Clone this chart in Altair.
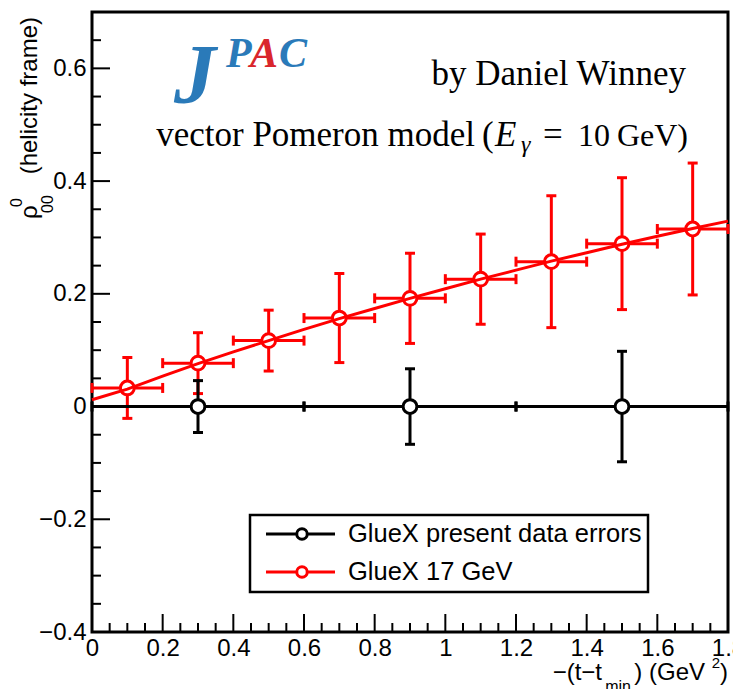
import altair as alt
import pandas as pd

# ---------------- data ----------------
red_x = [0.1, 0.3, 0.5, 0.7, 0.9, 1.1, 1.3, 1.5, 1.7]
red_y = [0.033, 0.077, 0.117, 0.157, 0.192, 0.226, 0.257, 0.289, 0.315]
red_yerr = [0.054, 0.054, 0.054, 0.079, 0.080, 0.080, 0.117, 0.117, 0.117]
red_xerr = [0.1, 0.1, 0.1, 0.1, 0.1, 0.1, 0.1, 0.1, 0.1]

black_x = [0.3, 0.9, 1.5]
black_y = [0.0, 0.0, 0.0]
black_yerr = [0.046, 0.067, 0.098]
black_xerr = [0.3, 0.3, 0.3]

model_x = [0.0, 0.1, 0.2, 0.3, 0.4, 0.5, 0.6, 0.7, 0.8, 0.9,
           1.0, 1.1, 1.2, 1.3, 1.4, 1.5, 1.6, 1.7, 1.8]
model_y = [0.012, 0.031, 0.054, 0.076, 0.097, 0.117, 0.137, 0.156, 0.174, 0.192,
           0.209, 0.226, 0.242, 0.258, 0.273, 0.288, 0.302, 0.316, 0.329]

x_major = [0, 0.2, 0.4, 0.6, 0.8, 1.0, 1.2, 1.4, 1.6, 1.8]
x_minor = [0.05, 0.1, 0.15, 0.25, 0.3, 0.35, 0.45, 0.5, 0.55, 0.65, 0.7, 0.75,
           0.85, 0.9, 0.95, 1.05, 1.1, 1.15, 1.25, 1.3, 1.35, 1.45, 1.5, 1.55,
           1.65, 1.7, 1.75]
y_major = [-0.4, -0.2, 0, 0.2, 0.4, 0.6]
y_minor = [-0.35, -0.3, -0.25, -0.15, -0.1, -0.05, 0.05, 0.1, 0.15, 0.25, 0.3,
           0.35, 0.45, 0.5, 0.55, 0.65]

series_names = ["GlueX present data errors", "GlueX 17 GeV"]
series_colors = ["black", "red"]

# ---------------- tables ----------------
red = pd.DataFrame({"x": red_x, "y": red_y, "ey": red_yerr, "ex": red_xerr})
red["ylo"] = red.y - red.ey
red["yhi"] = red.y + red.ey
red["xlo"] = red.x - red.ex
red["xhi"] = red.x + red.ex

blk = pd.DataFrame({"x": black_x, "y": black_y, "ey": black_yerr, "ex": black_xerr})
blk["ylo"] = blk.y - blk.ey
blk["yhi"] = blk.y + blk.ey
blk["xlo"] = blk.x - blk.ex
blk["xhi"] = blk.x + blk.ex

model = pd.DataFrame({"x": model_x, "y": model_y})

W, H = 636, 620
SANS = "Liberation Sans, Arial, Helvetica, sans-serif"
SERIF = "Liberation Serif, Times New Roman, serif"
BLUE = "#2a7ab9"
RED_LOGO = "#d9262c"

xs = alt.Scale(domain=[0, 1.8], nice=False, zero=False)
ys = alt.Scale(domain=[-0.4, 0.7], nice=False, zero=False)
xaxis = alt.Axis(values=x_major, format="~g", ticks=False, domain=False, grid=False,
                 labelFont=SANS, labelFontSize=24, labelPadding=4, labelColor="black",
                 labelFlush=False, labelOverlap=False, title=None)
yaxis = alt.Axis(values=y_major, format="~g", ticks=False, domain=False, grid=False,
                 labelFont=SANS, labelFontSize=24, labelPadding=6, labelColor="black",
                 labelOverlap=False, title=None)


def X(f):
    return alt.X(f, type="quantitative", scale=xs, axis=xaxis)


def Y(f):
    return alt.Y(f, type="quantitative", scale=ys, axis=yaxis)


layers = []

# tick marks drawn inside the frame (ROOT style)
layers.append(alt.Chart(pd.DataFrame({"v": x_major}))
              .mark_tick(color="black", orient="vertical", size=18, thickness=2, opacity=1)
              .encode(x=X("v"), y=alt.value(H - 9)))
layers.append(alt.Chart(pd.DataFrame({"v": x_minor}))
              .mark_tick(color="black", orient="vertical", size=9, thickness=2, opacity=1)
              .encode(x=X("v"), y=alt.value(H - 4.5)))
layers.append(alt.Chart(pd.DataFrame({"v": y_major}))
              .mark_tick(color="black", orient="horizontal", size=18, thickness=2, opacity=1)
              .encode(y=Y("v"), x=alt.value(9)))
layers.append(alt.Chart(pd.DataFrame({"v": y_minor}))
              .mark_tick(color="black", orient="horizontal", size=9, thickness=2, opacity=1)
              .encode(y=Y("v"), x=alt.value(4.5)))


def errbars(df, color):
    out = []
    base = alt.Chart(df)
    out.append(base.mark_rule(color=color, strokeWidth=3).encode(x=X("x"), y=Y("ylo"), y2="yhi"))
    out.append(base.mark_rule(color=color, strokeWidth=3).encode(x=X("xlo"), x2="xhi", y=Y("y")))
    for f in ["ylo", "yhi"]:
        out.append(base.mark_tick(color=color, orient="horizontal", size=10, thickness=3, opacity=1)
                   .encode(x=X("x"), y=Y(f)))
    for f in ["xlo", "xhi"]:
        out.append(base.mark_tick(color=color, orient="vertical", size=10, thickness=3, opacity=1)
                   .encode(x=X(f), y=Y("y")))
    return out


layers += errbars(red, "red")
layers += errbars(blk, "black")

layers.append(alt.Chart(red).mark_point(shape="circle", filled=True, fill="white", stroke="red",
                                        strokeWidth=3, size=190, opacity=1)
              .encode(x=X("x"), y=Y("y")))
layers.append(alt.Chart(blk).mark_point(shape="circle", filled=True, fill="white", stroke="black",
                                        strokeWidth=3, size=190, opacity=1)
              .encode(x=X("x"), y=Y("y")))

layers.append(alt.Chart(model).mark_line(color="red", strokeWidth=3).encode(x=X("x"), y=Y("y")))


def txt(s, x, y, size, font=SANS, align="left", baseline="alphabetic", angle=0,
        color="black", style="normal", weight="normal"):
    return (alt.Chart(pd.DataFrame({"t": [s]}))
            .mark_text(align=align, baseline=baseline, font=font, fontSize=size, angle=angle,
                       color=color, fontStyle=style, fontWeight=weight)
            .encode(text="t:N", x=alt.value(x), y=alt.value(y)))


# offsets: page pixel -> plot-area pixel
OX, OY = 92, 12

# legend (drawn by hand, ROOT TLegend style)
layers.append(alt.Chart(pd.DataFrame({"a": [0]})).mark_rect(fill="white", stroke="black", strokeWidth=2.5)
              .encode(x=alt.value(250 - OX), x2=alt.value(648 - OX),
                      y=alt.value(515 - OY), y2=alt.value(592 - OY)))
row_y = [534 - OY, 572 - OY]
for name, col, ry in zip(series_names, series_colors, row_y):
    layers.append(alt.Chart(pd.DataFrame({"a": [0]})).mark_rule(color=col, strokeWidth=3)
                  .encode(x=alt.value(266 - OX), x2=alt.value(335 - OX), y=alt.value(ry)))
    layers.append(alt.Chart(pd.DataFrame({"a": [0]})).mark_point(shape="circle", filled=True, fill="white",
                                                                  stroke=col, strokeWidth=3, size=110, opacity=1)
                  .encode(x=alt.value(302 - OX), y=alt.value(ry)))
    layers.append(txt(name, 348 - OX, ry, 25.5, baseline="middle"))

# logo and annotations
layers.append(txt("J", 174 - OX, 103 - OY, 84, font=SERIF, color=BLUE, style="italic", weight="bold"))
layers.append(txt("P", 226 - OX, 67 - OY, 42, font=SERIF, color=BLUE, style="italic", weight="bold"))
layers.append(txt("A", 250 - OX, 67 - OY, 42, font=SERIF, color=RED_LOGO, style="italic", weight="bold"))
layers.append(txt("C", 279 - OX, 67 - OY, 42, font=SERIF, color=BLUE, style="italic", weight="bold"))
layers.append(txt("by Daniel Winney", 686 - OX, 85 - OY, 35, font=SERIF, align="right"))
layers.append(txt("vector Pomeron model", 475 - OX, 146 - OY, 35, font=SERIF, align="right"))
layers.append(txt("(", 482 - OX, 146 - OY, 35, font=SERIF))
layers.append(txt("E", 495 - OX, 146 - OY, 35, font=SERIF, style="italic"))
layers.append(txt("γ", 521 - OX, 152 - OY, 24, font=SERIF, style="italic"))
layers.append(txt("=", 543 - OX, 146 - OY, 35, font=SERIF))
layers.append(txt("10", 578 - OX, 146 - OY, 32, font=SERIF))
layers.append(txt("GeV)", 688 - OX, 146 - OY, 32, font=SERIF, align="right"))

# y axis title (rotated)
layers.append(txt("ρ", 37 - OX, 219 - OY, 24, angle=270))
layers.append(txt("0", 22 - OX, 207 - OY, 16, angle=270))
layers.append(txt("00", 53 - OX, 213 - OY, 16, angle=270))
layers.append(txt("(helicity frame)", 37 - OX, 17 - OY, 24, angle=270, align="right"))

# x axis title
layers.append(txt(")", 728 - OX, 680 - OY, 24, align="right"))
layers.append(txt("2", 720 - OX, 668 - OY, 15, align="right"))
layers.append(txt(") (GeV", 705 - OX, 680 - OY, 24, align="right"))
layers.append(txt("min", 631 - OX, 692 - OY, 16, align="right"))
layers.append(txt("−(t−t", 602 - OX, 680 - OY, 24, align="right"))

chart = (alt.layer(*layers)
         .properties(width=W, height=H, autosize=alt.AutoSizeParams(type="none"),
                     padding={"left": 84, "top": 4, "right": 5, "bottom": 57},
                     background="white")
         .configure_view(stroke="black", strokeWidth=3))

chart.save("out.html", embed_options={"renderer": "svg", "actions": False})
